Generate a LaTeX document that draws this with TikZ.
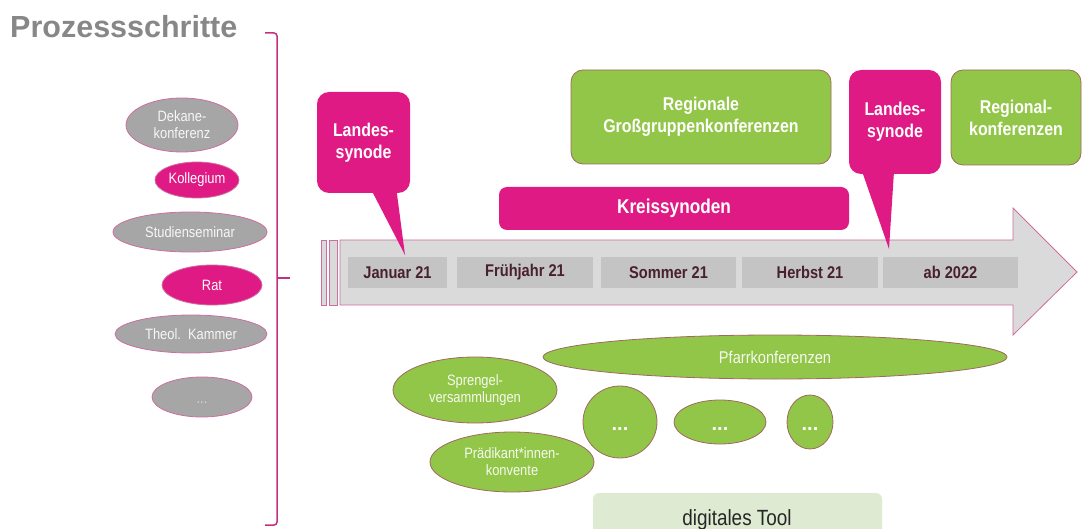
\documentclass[tikz,border=0pt]{standalone}
\usepackage{fontspec}
\setmainfont{Liberation Sans}
\newfontfamily\narrowfont[FakeStretch=0.86]{Liberation Sans}
\usetikzlibrary{shapes.geometric}

\definecolor{synodpink}{RGB}{224,26,132}
\definecolor{rimpink}{RGB}{205,110,160}
\definecolor{bracepink}{RGB}{196,48,128}
\definecolor{leafgreen}{RGB}{146,198,72}
\definecolor{rimbrown}{RGB}{160,105,95}
\definecolor{bubblegray}{RGB}{166,166,166}
\definecolor{arrowgray}{RGB}{218,218,218}
\definecolor{slotgray}{RGB}{196,196,196}
\definecolor{labeldark}{RGB}{72,32,48}
\definecolor{titlegray}{RGB}{135,135,135}
\definecolor{toolgreen}{RGB}{222,235,210}

\tikzset{
  bubble/.style={ellipse, inner sep=0pt, line width=0.8pt, align=center,
    font=\narrowfont\fontsize{15}{17}\selectfont},
  graybubble/.style={bubble, fill=bubblegray, draw=rimpink, text=white!94!gray},
  pinkbubble/.style={bubble, fill=synodpink, draw=rimpink, text=white},
  greenbubble/.style={bubble, fill=leafgreen, draw=rimbrown, text=white!92!leafgreen},
  dotbubble/.style={greenbubble, text=white, text height=16pt, text depth=0pt,
    font=\bfseries\fontsize{20}{22}\selectfont},
  slot/.style={fill=slotgray, inner sep=0pt, minimum height=31pt,
    font=\narrowfont\bfseries\fontsize{17}{19}\selectfont, text=labeldark},
  pinkbox/.style={fill=synodpink, rounded corners=12pt, inner sep=0pt, align=center,
    font=\narrowfont\bfseries\fontsize{18.5}{22}\selectfont, text=white},
  greenbox/.style={pinkbox, fill=leafgreen, draw=rimbrown, line width=0.8pt}
}

\begin{document}
\begin{tikzpicture}[x=1pt, y=-1pt]
  \useasboundingbox (0,0) rectangle (1083,529);

  % title and brace
  \node[anchor=base west, inner sep=0pt, text=titlegray,
    font=\bfseries\fontsize{30.5}{36}\selectfont] (title) at (10,38) {Prozessschritte};
  \draw[bracepink, line width=1.5pt, rounded corners=3pt] (265,33) -- (277,33) -- (277,525) -- (265,525);
  \draw[bracepink, line width=1.5pt] (277,278) -- (290,278);

  % gremien
  \node[graybubble, minimum width=112pt, minimum height=54pt] (dekane) at (182,125) {Dekane-\\konferenz};
  \node[pinkbubble, minimum width=84pt, minimum height=36pt] (kollegium) at (197,180) {Kollegium};
  \node[graybubble, minimum width=154pt, minimum height=40pt] (seminar) at (190,232) {Studienseminar};
  \node[pinkbubble, minimum width=100pt, minimum height=40pt] (rat) at (212,285) {Rat};
  \node[graybubble, minimum width=152pt, minimum height=38pt] (kammer) at (191,334) {Theol.\ \ Kammer};
  \node[graybubble, minimum width=100pt, minimum height=40pt, text height=12pt, text depth=0pt,
    text=white!55!bubblegray] (weitere) at (202,397) {...};

  % zeitstrahl
  \draw[rimpink, fill=arrowgray, line width=0.8pt] (321,240) rectangle (326,305);
  \draw[rimpink, fill=arrowgray, line width=0.8pt] (329,240) rectangle (337,305);
  \draw[rimpink, fill=arrowgray, line width=0.8pt] (340,240) -- (1013,240) -- (1013,208) -- (1077,272)
    -- (1013,335) -- (1013,305) -- (340,305) -- cycle;
  \node[slot, minimum width=99pt] (jan) at (397.5,272.5) {Januar 21};
  \node[slot, minimum width=136pt] (fruehjahr) at (525,272.5) {Frühjahr 21};
  \node[slot, minimum width=135pt] (sommer) at (668.5,272.5) {Sommer 21};
  \node[slot, minimum width=136pt] (herbst) at (810,272.5) {Herbst 21};
  \node[slot, minimum width=135pt] (ab2022) at (950.5,272.5) {ab 2022};

  % synoden und konferenzen
  \node[pinkbox, minimum width=350pt, minimum height=43pt, rounded corners=8pt,
    font=\narrowfont\bfseries\fontsize{20}{22}\selectfont] (kreis) at (674,208.5) {Kreissynoden};
  \node[greenbox, minimum width=260pt, minimum height=94pt] (grossgruppen) at (701,117) {Regionale\\Großgruppenkonferenzen};
  \node[greenbox, minimum width=130pt, minimum height=95pt] (regional) at (1016,117.5) {Regional-\\konferenzen};

  \node[pinkbox, minimum width=93pt, minimum height=101pt] (synodeA) at (363.5,142.5) {Landes-\\synode};
  \coordinate (tipA) at (405,255);
  \fill[synodpink] ([xshift=8pt,yshift=3pt]synodeA.south) -- (tipA) -- ([xshift=33pt,yshift=3pt]synodeA.south) -- cycle;

  \node[pinkbox, minimum width=92pt, minimum height=104pt] (synodeB) at (895,122) {Landes-\\synode};
  \coordinate (tipB) at (889,249);
  \fill[synodpink] ([xshift=-33pt,yshift=3pt]synodeB.south) -- (tipB) -- ([xshift=-1pt,yshift=3pt]synodeB.south) -- cycle;

  % vor ort
  \node[greenbubble, minimum width=464pt, minimum height=44pt, font=\narrowfont\fontsize{17}{19}\selectfont] (pfarr) at (775,357) {Pfarrkonferenzen};
  \node[greenbubble, minimum width=164pt, minimum height=66pt] (sprengel) at (475,390) {Sprengel-\\versammlungen};
  \node[greenbubble, minimum width=164pt, minimum height=60pt] (praedikant) at (512,462) {Prädikant*innen-\\konvente};
  \node[dotbubble, minimum width=74pt, minimum height=72pt] (mehrA) at (620,422) {...};
  \node[dotbubble, minimum width=92pt, minimum height=44pt] (mehrB) at (720,422) {...};
  \node[dotbubble, minimum width=46pt, minimum height=54pt] (mehrC) at (810,422) {...};

  % tool
  \fill[toolgreen] (593,529) [rounded corners=6pt] -- (593,493) -- (882,493) [sharp corners] -- (882,529) -- cycle;
  \node[anchor=base, inner sep=0pt, text=black!85, font=\narrowfont\fontsize{22}{26}\selectfont] (tool) at (737,525) {digitales Tool};
\end{tikzpicture}
\end{document}
